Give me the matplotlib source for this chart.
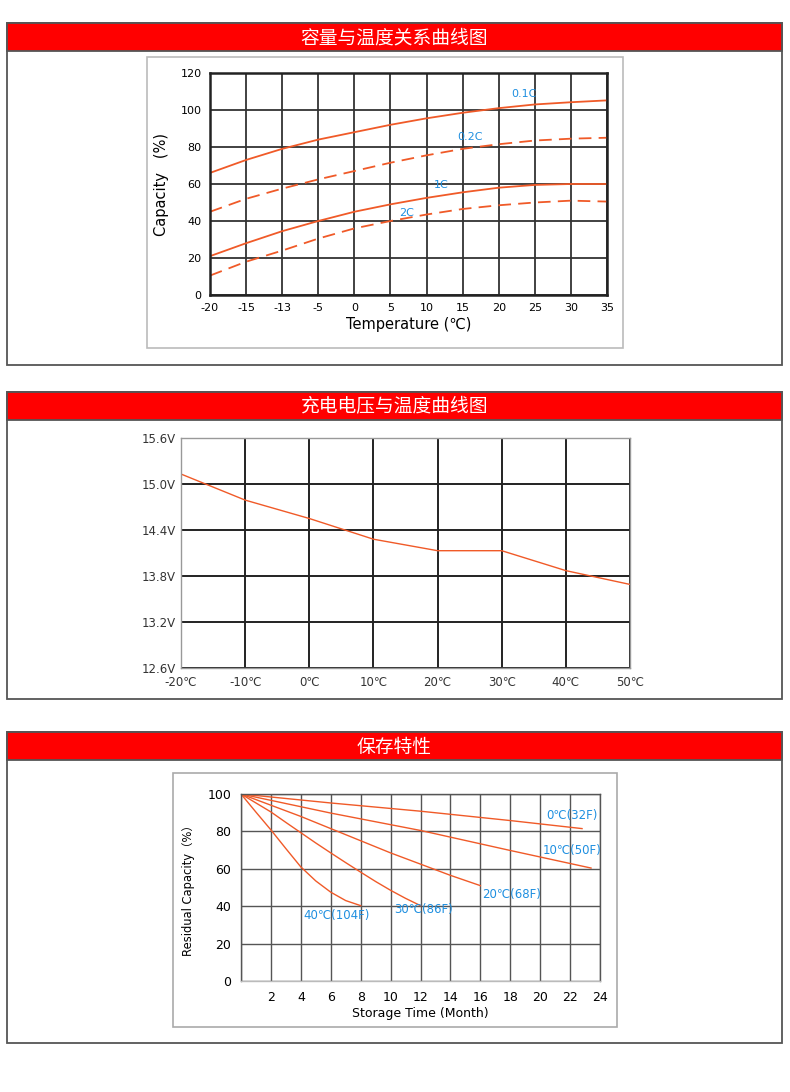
import matplotlib
matplotlib.use("Agg")
import matplotlib.pyplot as plt
from matplotlib.patches import Rectangle
import numpy as np

plt.rcParams['font.family'] = ['DejaVu Sans', 'Noto Sans CJK SC']

W, H = 790, 1092
fig = plt.figure(figsize=(W / 100, H / 100), dpi=100)

def frac(x0, y0, x1, y1):
    return [x0 / W, 1 - y1 / H, (x1 - x0) / W, (y1 - y0) / H]

LINE = '#F05A28'
BLUE = '#1E8FE0'
GRID = '#333333'

# ---------------- data ----------------
titles = ['容量与温度关系曲线图', '充电电压与温度曲线图', '保存特性']

cap_temp_labels = ['-20', '-15', '-13', '-5', '0', '5', '10', '15', '20', '25', '30', '35']
cap_01C = [66, 73, 79, 84, 88, 92, 95.5, 98.5, 101, 103, 104.2, 105.2]
cap_02C = [45, 52, 57.5, 62.5, 67, 71.5, 75.5, 79, 81.5, 83.5, 84.5, 85]
cap_1C = [21, 28, 34.5, 40, 45, 49, 52.5, 55.5, 58, 59.5, 60, 60]
cap_2C = [10.5, 18, 24, 30.5, 36, 40, 43.5, 46.5, 48.5, 50, 51, 50.5]

volt_temp = [-20, -10, 0, 10, 20, 30, 40, 50]
volt_vals = [15.13, 14.79, 14.55, 14.28, 14.13, 14.13, 13.87, 13.69]
volt_ticks = [12.6, 13.2, 13.8, 14.4, 15.0, 15.6]

st_0C_x = [0, 6, 12, 18, 22.8]
st_0C_y = [100, 95.2, 90.8, 85.8, 81.5]
st_10C_x = [0, 6, 12, 18, 23.4]
st_10C_y = [100, 89.8, 80.5, 69.8, 60.4]
st_20C_x = [0, 2, 4, 6, 8, 10, 12, 14, 16]
st_20C_y = [100, 94, 88, 81.5, 75, 68.5, 62.5, 56.5, 51]
st_30C_x = [0, 1, 2, 3, 4, 5, 6, 7, 8, 9, 10, 11, 12]
st_30C_y = [100, 95.2, 90.4, 84.8, 79.3, 73.8, 68.5, 63.3, 58.2, 53.2, 48.5, 44.2, 40.3]
st_40C_x = [0, 1, 2, 3, 4, 5, 6, 7, 8]
st_40C_y = [100, 90.3, 80.8, 70.8, 61, 53.5, 47.5, 43, 40.3]
st_labels = ['0℃(32F)', '10℃(50F)', '20℃(68F)', '30℃(86F)', '40℃(104F)']

# ---------------- section frames ----------------
bg = fig.add_axes([0, 0, 1, 1])
bg.set_xlim(0, W)
bg.set_ylim(H, 0)
bg.axis('off')

sections = [(23, 51, 365), (392, 420, 699), (732, 760, 1043)]
for (t, hb, b), title in zip(sections, titles):
    bg.add_patch(Rectangle((7, t), 775, b - t, fill=False, ec='#555555', lw=1.3))
    bg.add_patch(Rectangle((7, t), 775, hb - t, fc='#FF0000', ec='#555555', lw=1.3))
    bg.text(394.5, (t + hb) / 2 + 1, title, color='white', fontsize=13.5,
            ha='center', va='center', family=['Noto Sans CJK SC'])

# inner light frames
bg.add_patch(Rectangle((147, 57), 476, 291, fill=False, ec='#BBBBBB', lw=1.2))
bg.add_patch(Rectangle((173, 773), 444, 254, fill=False, ec='#AAAAAA', lw=1.2))

# ---------------- chart 1 ----------------
ax1 = fig.add_axes(frac(210, 73, 607, 295))
xi = np.arange(len(cap_temp_labels))
ax1.plot(xi, cap_01C, color=LINE, lw=1.3)
ax1.plot(xi, cap_02C, color=LINE, lw=1.3, ls=(0, (7, 4)))
ax1.plot(xi, cap_1C, color=LINE, lw=1.3)
ax1.plot(xi, cap_2C, color=LINE, lw=1.3, ls=(0, (7, 4)))
ax1.set_xlim(0, len(xi) - 1)
ax1.set_ylim(0, 120)
ax1.set_xticks(xi)
ax1.set_xticklabels(cap_temp_labels)
ax1.set_yticks(range(0, 121, 20))
ax1.grid(True, color=GRID, lw=1.3)
for s in ax1.spines.values():
    s.set_color('#222222')
    s.set_linewidth(1.8)
ax1.tick_params(length=0, labelsize=8, pad=6)
ax1.set_xlabel('Temperature (℃)', fontsize=10.5, labelpad=3)
ax1.set_ylabel('Capacity   (%)', fontsize=10.5, labelpad=8)
ax1.text(8.7, 106, '0.1C', color=BLUE, fontsize=8, ha='center', va='bottom')
ax1.text(7.2, 82.5, '0.2C', color=BLUE, fontsize=8, ha='center', va='bottom')
ax1.text(6.4, 56.5, '1C', color=BLUE, fontsize=8, ha='center', va='bottom')
ax1.text(5.45, 41.5, '2C', color=BLUE, fontsize=8, ha='center', va='bottom')

# ---------------- chart 2 ----------------
ax2 = fig.add_axes(frac(181, 438, 630, 668))
ax2.plot(volt_temp, volt_vals, color=LINE, lw=1.0)
ax2.set_xlim(-20, 50)
ax2.set_ylim(12.6, 15.6)
ax2.set_xticks(volt_temp)
ax2.set_xticklabels([f'{t}℃' for t in volt_temp])
ax2.set_yticks(volt_ticks)
ax2.set_yticklabels([f'{v:.1f}V' for v in volt_ticks])
ax2.grid(True, color='#222222', lw=1.4)
for k, s in ax2.spines.items():
    s.set_color('#999999')
    s.set_linewidth(1.0)
ax2.tick_params(length=0, labelsize=8.5, colors='#333333', pad=4)
ax2.tick_params(axis='x', pad=6)

# ---------------- chart 3 ----------------
ax3 = fig.add_axes(frac(241, 794, 600, 981))
for xs, ys in [(st_0C_x, st_0C_y), (st_10C_x, st_10C_y), (st_20C_x, st_20C_y),
               (st_30C_x, st_30C_y), (st_40C_x, st_40C_y)]:
    ax3.plot(xs, ys, color=LINE, lw=1.0)
ax3.set_xlim(0, 24)
ax3.set_ylim(0, 100)
ax3.set_xticks(range(0, 25, 2))
ax3.set_xticklabels([''] + [str(v) for v in range(2, 25, 2)])
ax3.set_yticks(range(0, 101, 20))
ax3.grid(True, color='#555555', lw=1.0)
for k, s in ax3.spines.items():
    s.set_color('#555555')
    s.set_linewidth(1.0)
ax3.spines['bottom'].set_color('#BBBBBB')
ax3.tick_params(length=0, labelsize=9, pad=7)
ax3.set_xlabel('Storage Time (Month)', fontsize=9, labelpad=2)
ax3.set_ylabel('Residual Capacity（%）', fontsize=8.3, labelpad=9,
               family=['DejaVu Sans', 'Noto Sans CJK SC'])
label_pos = [(22.1, 88.5), (22.1, 70), (18.1, 46.5), (12.2, 38), (6.4, 35)]
for (lx, ly), txt in zip(label_pos, st_labels):
    ax3.text(lx, ly, txt, color=BLUE, fontsize=8.5, ha='center', va='center')

fig.savefig('out.png', dpi=100)
